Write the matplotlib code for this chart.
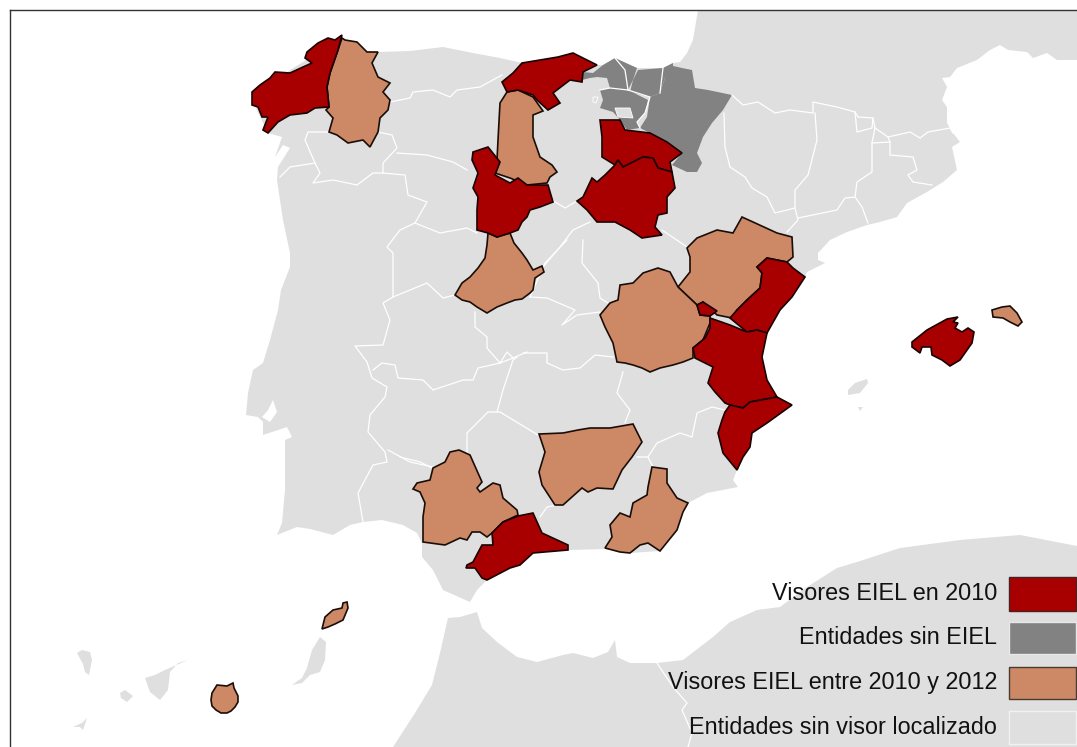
import matplotlib
matplotlib.use("Agg")
import matplotlib.pyplot as plt
from matplotlib.patches import Polygon, Rectangle

plt.rcParams['font.family'] = ['Liberation Sans', 'DejaVu Sans']

# ---------- map outlines, in map units of the reference picture ----------
iberia_france = [(342,38),(345,40),(357,42),(367,52),(378,52),(410,51),(443,47),(473,53),(500,58),(522,63),(558,57),(573,53),(597,65),(603,65),(615,58),(637,68),(663,68),(673,63),(680,62),(687,53),(693,40),(698,10),(1077,10),(1077,60),(1057,60),(1047,53),(1033,58),(1027,52),(1008,50),(1000,45),(990,50),(977,60),(957,68),(950,77),(942,78),(947,87),(942,100),(947,107),(947,123),(953,133),(960,142),(952,147),(957,170),(943,182),(927,192),(907,203),(897,217),(880,222),(867,225),(847,232),(830,240),(818,253),(818,260),(825,263),(807,272),(805,277),(780,310),(765,333),(762,357),(767,380),(777,397),(792,405),(767,423),(752,433),(750,447),(737,470),(733,480),(738,487),(707,493),(688,503),(677,523),(660,551),(630,553),(605,549),(570,550),(533,553),(510,567),(487,580),(477,590),(470,602),(443,590),(433,570),(422,557),(422,543),(417,533),(403,525),(382,520),(363,522),(350,525),(333,535),(310,529),(297,527),(277,535),(282,523),(285,490),(285,467),(285,440),(292,437),(287,427),(263,435),(263,422),(258,417),(246,415),(248,393),(253,370),(263,363),(270,340),(278,310),(281,290),(290,267),(290,253),(283,220),(277,180),(278,167),(290,148),(283,145),(275,157),(282,137),(268,133),(252,100),(290,70)]
tagus_estuary = [(273,400),(277,412),(270,422),(262,417),(268,410)]
africa = [(393,747),(415,713),(432,685),(440,653),(448,618),(460,617),(477,612),(482,628),(497,642),(517,657),(537,662),(563,655),(573,653),(593,658),(608,652),(615,640),(617,657),(630,663),(657,663),(683,660),(713,637),(730,622),(757,610),(780,607),(807,587),(837,568),(857,562),(900,548),(960,540),(1020,535),(1077,546),(1077,747)]
ibiza = [(867,379),(868,383),(860,393),(848,395),(848,390),(855,383)]
formentera = [(858,407),(863,407),(860,411)]
fuerteventura = [(320,637),(326,642),(325,660),(320,672),(310,675),(302,683),(292,685),(302,678),(307,668),(312,650)]
tenerife = [(188,660),(178,663),(170,672),(168,690),(160,700),(150,692),(145,678),(155,675),(165,670)]
la_gomera = [(120,693),(125,690),(133,696),(127,702),(121,698)]
la_palma = [(77,653),(82,650),(90,652),(92,660),(89,675),(85,672),(83,664)]
el_hierro = [(87,718),(83,730),(80,727),(73,727),(82,723)]

# Visores EIEL en 2010
coruna = [(342,35),(338,50),(330,73),(327,87),(329,107),(315,108),(307,113),(290,115),(278,122),(268,133),(263,130),(268,117),(262,117),(258,107),(252,105),(252,92),(260,85),(270,78),(275,72),(290,73),(303,67),(312,63),(305,58),(307,52),(318,43),(328,38),(335,40)]
cantabria = [(502,82),(513,73),(522,63),(558,57),(573,53),(597,65),(583,72),(582,82),(570,80),(553,93),(560,103),(548,110),(537,100),(533,95),(518,90),(507,92)]
valladolid = [(473,152),(488,147),(500,162),(495,175),(510,183),(518,178),(527,185),(548,185),(553,202),(540,207),(530,210),(527,217),(522,222),(518,230),(510,233),(497,237),(488,233),(477,230),(477,210),(478,197),(473,188),(478,173),(472,160)]
rioja = [(600,120),(620,120),(625,130),(650,133),(667,142),(682,153),(670,162),(672,172),(658,168),(653,158),(643,157),(633,162),(623,167),(618,160),(615,165),(602,157),(602,137)]
soria = [(615,165),(618,160),(623,167),(633,162),(643,157),(653,158),(658,168),(672,172),(675,188),(667,197),(667,213),(658,215),(655,227),(662,235),(642,238),(630,230),(615,222),(597,222),(587,210),(577,201),(583,197),(592,178),(597,182),(605,175)]
castellon = [(757,267),(767,258),(787,262),(793,268),(805,277),(792,297),(780,310),(767,333),(757,330),(747,332),(730,318),(737,310),(747,300),(760,288),(762,273)]
ademuz = [(697,305),(703,302),(717,311),(710,316),(700,315)]
valencia = [(710,318),(730,325),(747,332),(757,330),(767,333),(762,357),(767,380),(777,397),(750,402),(743,408),(730,405),(725,403),(715,392),(708,383),(713,367),(695,358),(693,348),(705,338),(710,328)]
alicante = [(725,412),(730,405),(743,408),(750,402),(777,397),(792,405),(767,423),(752,433),(750,447),(743,457),(737,470),(723,453),(718,433),(722,420)]
malaga = [(518,516),(533,513),(542,533),(568,545),(568,550),(533,553),(520,565),(510,568),(487,580),(482,578),(475,568),(466,568),(467,565),(473,562),(482,545),(493,545),(492,533),(503,522)]
mallorca = [(912,342),(927,330),(947,319),(958,317),(953,322),(958,323),(955,328),(962,332),(968,328),(974,332),(972,343),(960,360),(950,366),(942,360),(932,355),(931,347),(922,347),(920,353),(912,347)]

# Visores EIEL entre 2010 y 2012
asturias = [(345,40),(357,42),(367,52),(378,52),(372,63),(378,77),(390,83),(383,92),(390,100),(388,110),(380,118),(378,132),(370,147),(363,140),(348,143),(337,135),(329,132),(333,118),(326,110),(329,107),(327,87),(330,73),(338,50),(342,38)]
palencia = [(507,92),(518,90),(533,97),(543,111),(533,115),(533,137),(540,157),(552,165),(557,172),(550,177),(547,183),(527,185),(510,178),(495,173),(497,160),(498,140),(500,103)]
avila = [(488,233),(497,237),(510,233),(514,243),(522,253),(527,260),(533,270),(542,266),(544,272),(535,278),(533,290),(530,293),(522,299),(515,300),(507,303),(497,307),(487,313),(477,307),(470,302),(462,300),(455,295),(462,283),(470,277),(478,268),(485,258),(487,245)]
teruel = [(687,248),(697,238),(717,230),(733,233),(742,217),(753,222),(777,233),(792,237),(793,257),(787,262),(767,258),(757,267),(762,273),(760,288),(747,300),(737,310),(732,318),(717,315),(703,302),(697,305),(678,287),(690,272),(690,257)]
cuenca = [(620,285),(633,283),(643,273),(658,268),(670,272),(678,287),(697,305),(700,315),(710,316),(710,323),(703,340),(693,348),(693,358),(683,362),(673,365),(660,368),(650,372),(642,368),(633,365),(625,363),(617,362),(613,343),(605,327),(600,315),(610,303),(618,300)]
jaen = [(539,434),(563,433),(578,430),(590,428),(610,428),(633,424),(642,442),(632,457),(622,470),(613,489),(597,488),(588,492),(582,488),(563,505),(555,505),(542,485),(539,472),(545,452)]
sevilla = [(450,452),(459,450),(470,455),(478,473),(482,482),(477,488),(480,492),(493,483),(500,485),(503,498),(517,510),(518,515),(503,522),(492,533),(487,537),(480,532),(472,532),(467,540),(460,538),(445,545),(423,542),(423,517),(425,503),(420,492),(413,489),(417,483),(430,480),(433,468),(445,462)]
almeria = [(652,467),(667,469),(667,483),(677,498),(688,503),(683,512),(677,530),(660,551),(648,543),(640,545),(630,553),(620,552),(605,548),(612,537),(610,525),(620,513),(630,517),(633,503),(647,495),(648,487)]
menorca = [(992,310),(1002,307),(1010,306),(1017,313),(1022,322),(1018,326),(1010,322),(1003,318),(993,317)]
lanzarote = [(347,602),(348,608),(343,620),(335,624),(328,627),(322,629),(325,617),(333,610),(342,608),(343,603)]
gran_canaria = [(217,685),(227,686),(233,683),(234,688),(238,696),(238,702),(235,707),(231,711),(227,713),(221,713),(216,710),(212,706),(211,700),(212,693)]

# Entidades sin EIEL
navarra = [(673,66),(682,68),(692,70),(695,88),(708,90),(732,95),(723,110),(712,123),(703,137),(697,153),(702,163),(697,172),(687,172),(672,165),(682,153),(667,142),(650,133),(640,128),(647,117),(650,97),(660,93),(665,78)]
guipuzcoa = [(638,70),(663,68),(673,63),(673,70),(665,78),(660,93),(650,97),(630,92),(633,80)]
vizcaya = [(583,72),(593,73),(603,65),(615,58),(637,68),(633,80),(628,90),(610,88),(607,78),(597,77),(590,78),(582,80)]
alava = [(600,90),(610,88),(628,90),(648,100),(645,113),(637,122),(640,128),(627,130),(620,120),(613,112),(600,108),(603,100)]
trevino = [(615,108),(630,108),(633,118),(618,117)]
orduna = [(593,97),(598,97),(596,103),(593,102)]

# white borders between provinces and countries
borders = [
    [(732,95),(743,105),(758,102),(775,113),(790,110),(813,113),(813,102),(837,107),(855,112),(858,117),(873,118),(875,128),(888,137),(910,132),(920,138),(928,132),(950,128),(953,133)],
    [(724,113),(725,147),(730,167),(745,177),(752,188),(767,197),(775,213),(795,208),(795,190),(808,175),(817,140),(815,113)],
    [(795,208),(798,220),(787,232)],
    [(855,112),(857,132),(872,128),(873,118)],
    [(875,128),(872,143),(872,172),(857,182),(855,197),(862,207),(868,223)],
    [(872,143),(890,142),(888,137)],
    [(890,142),(890,155),(913,157),(917,170),(908,175),(913,182),(932,185)],
    [(798,218),(837,210),(845,198),(855,197)],
    [(390,102),(410,98),(413,92),(433,90),(450,97),(457,90),(480,87),(502,75)],
    [(330,132),(308,132),(305,140),(315,163),(320,173),(313,183),(333,180),(357,185),(373,173),(383,173),(405,175),(408,195),(427,202),(415,223),(400,230),(387,247),(393,253),(393,297),(383,303),(390,320),(383,345),(355,346),(367,362),(372,378),(387,387),(385,397),(370,415),(368,432),(385,452),(387,462),(373,465),(358,493),(363,522)],
    [(280,177),(290,167),(315,163)],
    [(378,132),(392,135),(397,148),(383,163),(383,173)],
    [(397,153),(427,155),(453,162),(467,170)],
    [(415,223),(440,233),(467,228),(477,233)],
    [(393,297),(427,283),(443,298),(455,295)],
    [(388,450),(410,462),(433,467)],
    [(467,453),(467,433),(488,412),(500,412),(538,435)],
    [(497,412),(503,390),(513,360),(517,357)],
    [(373,370),(382,363),(395,365),(398,378),(423,380),(433,390),(463,380),(473,380),(478,368),(500,363),(513,358),(527,352)],
    [(475,312),(475,327),(487,337),(487,348),(500,363)],
    [(500,363),(507,352),(513,358)],
    [(523,353),(547,353),(547,363),(563,370),(580,368),(595,355),(613,357)],
    [(530,297),(547,298),(575,310),(562,325),(577,315),(600,312)],
    [(567,240),(545,263),(530,297)],
    [(583,240),(582,263),(598,283),(600,298),(608,303)],
    [(662,230),(687,247)],
    [(623,372),(617,393),(630,410),(625,423)],
    [(637,457),(648,457),(657,443),(680,433),(692,437),(697,413),(712,407),(725,410)],
    [(648,457),(653,467)],
    [(552,200),(565,208),(577,201)],
    [(590,222),(573,230),(560,247),(543,267)],
    [(540,517),(547,507),(557,505)],
    [(400,457),(420,462),(432,468)],
    [(657,663),(673,687),(687,703),(682,710),(692,733),(688,747)],
    [(615,58),(625,70),(628,90)],
    [(663,68),(660,93)],
    [(628,90),(650,97),(645,113),(637,122),(640,128)],
    [(600,90),(610,88),(628,90)],
]

red_provinces = [coruna, cantabria, valladolid, rioja, soria, castellon, ademuz, valencia, alicante, malaga, mallorca]
tan_provinces = [asturias, palencia, avila, teruel, cuenca, jaen, sevilla, almeria, menorca, lanzarote, gran_canaria]
grey_provinces = [navarra, guipuzcoa, vizcaya, alava]
light_land = [iberia_france, africa, ibiza, formentera, fuerteventura, tenerife, la_gomera, la_palma, el_hierro]
light_holes = [trevino, orduna]

legend_labels = ["Visores EIEL en 2010", "Entidades sin EIEL", "Visores EIEL entre 2010 y 2012", "Entidades sin visor localizado"]

RED, GREY, TAN, LIGHT = '#A80000', '#828282', '#CD8966', '#DFDFDF'

fig = plt.figure(figsize=(10.77, 7.47), dpi=100)
ax = fig.add_axes([0, 0, 1, 1])
ax.set_xlim(0, 1077)
ax.set_ylim(747, 0)
ax.axis('off')

for poly in light_land:
    ax.add_patch(Polygon(poly, closed=True, fc=LIGHT, ec='none', zorder=1))
ax.add_patch(Polygon(tagus_estuary, closed=True, fc='white', ec='none', zorder=1.5))
for poly in grey_provinces:
    ax.add_patch(Polygon(poly, closed=True, fc=GREY, ec='none', zorder=2))
for poly in light_holes:
    ax.add_patch(Polygon(poly, closed=True, fc=LIGHT, ec='white', lw=0.6, zorder=2.2))
for line in borders:
    xs, ys = zip(*line)
    ax.plot(xs, ys, color='white', lw=0.9, zorder=3, solid_joinstyle='round')
for poly in tan_provinces:
    ax.add_patch(Polygon(poly, closed=True, fc=TAN, ec='#1a0d08', lw=1.2, zorder=4))
for poly in red_provinces:
    ax.add_patch(Polygon(poly, closed=True, fc=RED, ec='#1a0000', lw=1.2, zorder=5))

# frame
ax.plot([10, 10], [747, 10], color='#333333', lw=1.0, zorder=6)
ax.plot([10, 1077], [10, 10], color='#333333', lw=1.0, zorder=6)

# legend
swatches = [(577, 34, RED, '#4a2020'), (622, 32, GREY, '#e8e8e8'), (667, 32, TAN, '#4a3a32'), (711, 33, LIGHT, '#f2f2f2')]
for label, (y, h, fc, ec) in zip(legend_labels, swatches):
    ax.add_patch(Rectangle((1009, y), 67, h, fc=fc, ec=ec, lw=1.0, zorder=7))
    ax.text(997, y + h / 2, label, ha='right', va='center', fontsize=16.8, color='#111111', zorder=8)

fig.savefig('out.png', dpi=100)
